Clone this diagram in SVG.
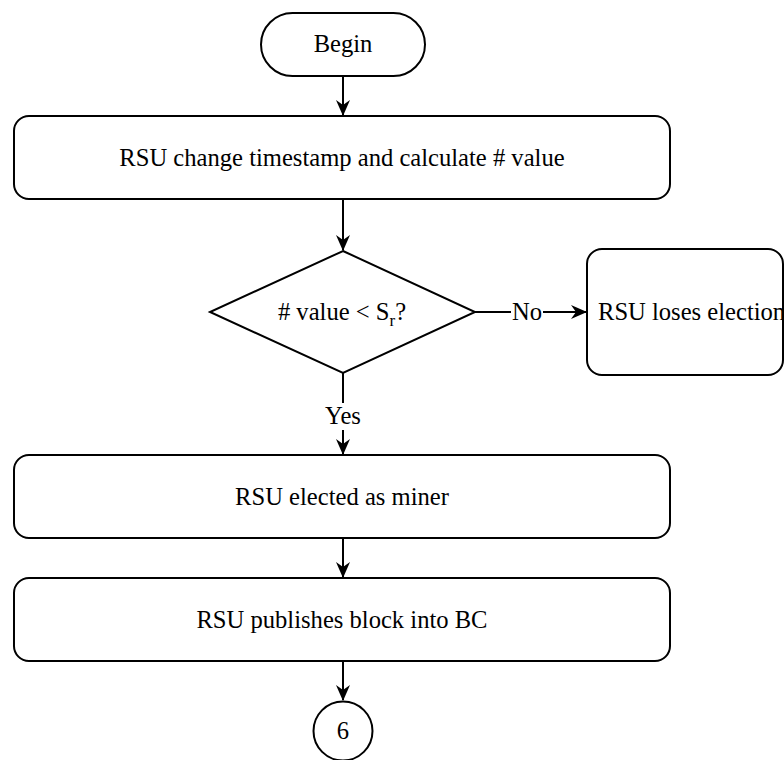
<svg xmlns="http://www.w3.org/2000/svg" width="784" height="760" viewBox="0 0 784 760" font-family="'Liberation Serif', 'Times New Roman', 'DejaVu Serif', serif">
<defs>
<marker id="arr" viewBox="0 0 16 16" refX="15" refY="8" markerWidth="16" markerHeight="16" markerUnits="userSpaceOnUse" orient="auto">
<path d="M0,1 L16,8 L0,15 L5,8 Z" fill="#000"/>
</marker>
<style>
.s{fill:#fff;stroke:#000;stroke-width:2}
.t{font-family:'Liberation Serif','Times New Roman','DejaVu Serif',serif;font-size:24.6px;fill:#000}
.c{text-anchor:middle}
.e{fill:none;stroke:#000;stroke-width:2}
</style>
</defs>
<rect width="784" height="760" fill="#fff"/>
<g id="connectors">
<line class="e" x1="343" y1="76" x2="343" y2="115" marker-end="url(#arr)"/>
<line class="e" x1="343" y1="199" x2="343" y2="250" marker-end="url(#arr)"/>
<line class="e" x1="475" y1="312" x2="511" y2="312"/>
<line class="e" x1="543" y1="312" x2="586" y2="312" marker-end="url(#arr)"/>
<text class="t c" x="527" y="320">No</text>
<line class="e" x1="343" y1="373" x2="343" y2="403"/>
<line class="e" x1="343" y1="430" x2="343" y2="454" marker-end="url(#arr)"/>
<text class="t c" x="343" y="424">Yes</text>
<line class="e" x1="343" y1="538" x2="343" y2="577" marker-end="url(#arr)"/>
<line class="e" x1="343" y1="661" x2="343" y2="700" marker-end="url(#arr)"/>
</g>
<g id="begin">
<rect class="s" x="261" y="13" width="164" height="63" rx="31.5"/>
<text class="t c" x="343" y="52">Begin</text>
</g>
<g id="calc">
<rect class="s" x="14" y="116" width="656" height="83" rx="15"/>
<text class="t c" x="342" y="166">RSU change timestamp and calculate # value</text>
</g>
<g id="decision">
<polygon class="s" points="343,251 475,312 343,373 210,312"/>
<text class="t c" x="342" y="320"># value &lt; S<tspan font-size="17" dy="6">r</tspan><tspan dy="-6">?</tspan></text>
</g>
<g id="lose">
<rect class="s" x="587" y="249" width="196" height="126" rx="15"/>
<text class="t" x="598" y="320">RSU loses election</text>
</g>
<g id="elected">
<rect class="s" x="14" y="455" width="656" height="83" rx="15"/>
<text class="t c" x="342" y="505">RSU elected as miner</text>
</g>
<g id="publish">
<rect class="s" x="14" y="578" width="656" height="83" rx="15"/>
<text class="t c" x="342" y="628">RSU publishes block into BC</text>
</g>
<g id="conn6">
<circle class="s" cx="343" cy="731" r="29.5"/>
<text class="t c" x="343" y="739">6</text>
</g>
</svg>
